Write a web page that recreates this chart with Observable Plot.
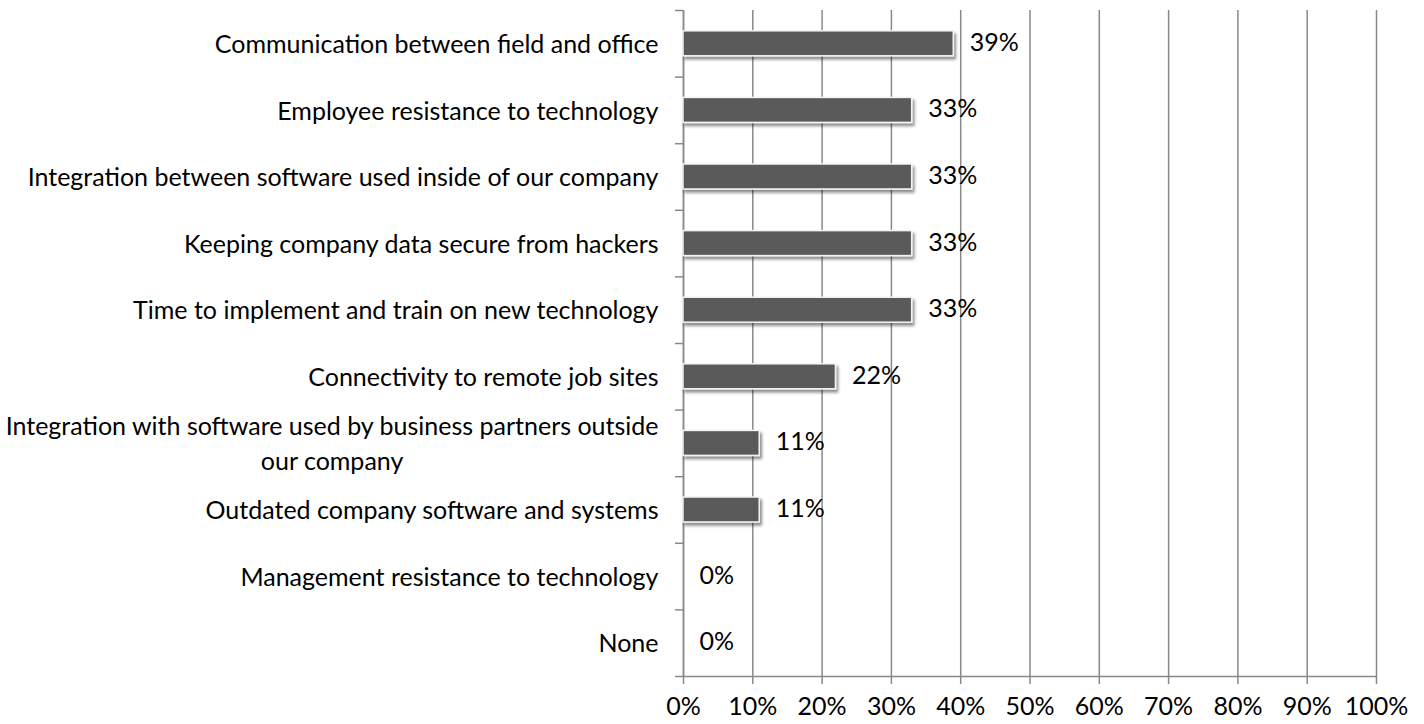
<!DOCTYPE html>
<html><head><meta charset="utf-8">
<script src="https://cdn.jsdelivr.net/npm/d3@7"></script>
<script src="https://cdn.jsdelivr.net/npm/@observablehq/plot@0.6"></script>
<style>
html,body{margin:0;padding:0;background:#fff;}
</style></head><body><div id="chart"></div>
<script>
const categories = [
  "Communication between field and office",
  "Employee resistance to technology",
  "Integration between software used inside of our company",
  "Keeping company data secure from hackers",
  "Time to implement and train on new technology",
  "Connectivity to remote job sites",
  "Integration with software used by business partners outside our company",
  "Outdated company software and systems",
  "Management resistance to technology",
  "None"
];
const categoryLabels = [
  "Communication between field and office",
  "Employee resistance to technology",
  "Integration between software used inside of our company",
  "Keeping company data secure from hackers",
  "Time to implement and train on new technology",
  "Connectivity to remote job sites",
  "Integration with software used by business partners outside\nour company",
  "Outdated company software and systems",
  "Management resistance to technology",
  "None"
];
const values = [0.39, 0.33, 0.33, 0.33, 0.33, 0.22, 0.11, 0.11, 0, 0];
const xTicks = [0, 0.1, 0.2, 0.3, 0.4, 0.5, 0.6, 0.7, 0.8, 0.9, 1];

const data = categories.map((c, i) => ({category: c, value: values[i]}));
const pct = d3.format(".0%");

const W = 1424, H = 724, mT = 10, mB = 48, mL = 683, mR = 48;
const step = (H - mT - mB) / categories.length;
const gray = "#888888";
const font = "Lato, 'Open Sans', sans-serif";
const fs = 25;

const plot = Plot.plot({
  width: W, height: H,
  marginTop: mT, marginBottom: mB, marginLeft: mL, marginRight: mR,
  style: {fontFamily: font, fontSize: fs + "px", color: "#000", background: "#fff"},
  x: {domain: [0, 1], label: null},
  y: {domain: categories, paddingInner: 0.625, paddingOuter: 0.3125, round: false, label: null},
  marks: [
    Plot.gridX(xTicks, {stroke: gray, strokeOpacity: 1, strokeWidth: 1.5}),
    Plot.ruleX([0], {stroke: gray, strokeWidth: 1.5}),
    Plot.ruleY([categories[categories.length - 1]], {x1: 0, x2: 1, dy: step / 2, stroke: gray, strokeWidth: 1.5}),
    Plot.axisY({tickSize: 8, tickFormat: () => "", stroke: gray, strokeWidth: 1.5, dy: -step / 2, label: null}),
    Plot.axisY([categories[categories.length - 1]], {tickSize: 8, tickFormat: () => "", stroke: gray, strokeWidth: 1.5, dy: step / 2, label: null}),
    Plot.axisY({tickSize: 0, tickPadding: 25, tickFormat: d => categoryLabels[categories.indexOf(d)], fontSize: fs, lineHeight: 1.4, dy: -2, label: null}),
    Plot.axisX(xTicks, {tickSize: 8, tickPadding: 13, tickFormat: pct, stroke: gray, strokeWidth: 1.5, fontSize: fs, label: null}),
    Plot.barX(data, {x: "value", y: "category", fill: "#5a5a5a", stroke: "#f4f4f4", strokeWidth: 1.5}),
    Plot.text(data, {x: "value", y: "category", text: d => pct(d.value), dx: 16, dy: -1, textAnchor: "start", fontSize: fs, fill: "#000"})
  ]
});

document.getElementById("chart").appendChild(plot);

// drop shadow for bars
const ns = "http://www.w3.org/2000/svg";
const defs = document.createElementNS(ns, "defs");
defs.innerHTML = '<filter id="shadow" x="-10%" y="-50%" width="130%" height="250%"><feDropShadow dx="2" dy="3" stdDeviation="1.8" flood-color="#000" flood-opacity="0.45"/></filter>';
plot.insertBefore(defs, plot.firstChild);
plot.querySelectorAll('g[aria-label="bar"]').forEach(g => g.setAttribute("filter", "url(#shadow)"));

// center wrapped lines of multi-line category labels
plot.querySelectorAll("text").forEach(t => {
  const spans = t.querySelectorAll("tspan");
  if (spans.length > 1) {
    const widths = Array.from(spans, s => s.getComputedTextLength());
    const wmax = Math.max(...widths);
    spans.forEach((s, i) => {
      const x0 = parseFloat(s.getAttribute("x") || "0");
      s.setAttribute("x", x0 - (wmax - widths[i]) / 2);
    });
  }
});
</script>
</body></html>
